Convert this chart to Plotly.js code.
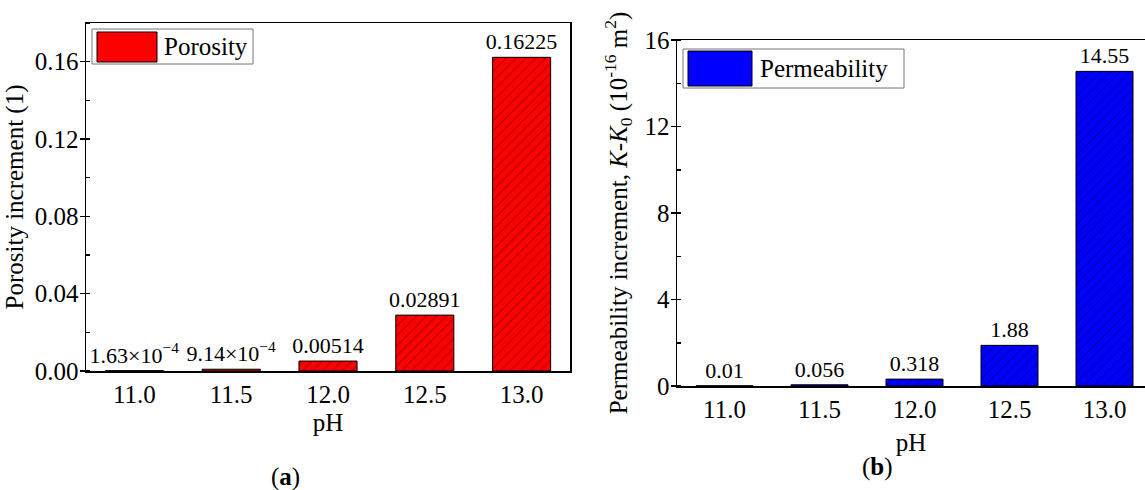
<!DOCTYPE html>
<html>
<head>
<meta charset="utf-8">
<script src="https://cdn.plot.ly/plotly-3.0.1.min.js"></script>
<style>html,body{margin:0;padding:0;background:#fff;}#chart{width:1145px;height:490px;}</style>
</head>
<body>
<div id="chart"></div>
<script>
// ---- data ----
const phLabels = ['11.0', '11.5', '12.0', '12.5', '13.0'];
const porosityIncrement = [1.63e-4, 9.14e-4, 0.00514, 0.02891, 0.16225];
const porosityText = ['1.63×10<sup>−4</sup>', '9.14×10<sup>−4</sup>', '0.00514', '0.02891', '0.16225'];
const permeabilityIncrement = [0.01, 0.056, 0.318, 1.88, 14.55];
const permeabilityText = ['0.01', '0.056', '0.318', '1.88', '14.55'];
const seriesNames = ['Porosity', 'Permeability'];
const panelLabels = ['(<b>a</b>)', '(<b>b</b>)'];

// ---- layout helpers (pixel -> paper) ----
const W = 1145, H = 490;
const px = v => v / W;
const py = v => 1 - v / H;
const FONT = 'Liberation Serif, Times New Roman, serif';
const TICK = 25, TITLE = 25, LABEL = 22;

const traces = [
  {
    type: 'bar', x: phLabels, y: porosityIncrement, xaxis: 'x', yaxis: 'y',
    name: seriesNames[0], width: 0.6,
    text: porosityText, textposition: 'outside', cliponaxis: false, constraintext: 'none',
    textfont: {family: FONT, size: LABEL, color: '#000'},
    marker: {color: '#ff0000', line: {color: '#000', width: 1},
      pattern: {shape: '/', fgcolor: '#a00000', bgcolor: '#ff0000', size: 7, solidity: 0.15}},
    hoverinfo: 'x+y'
  },
  {
    type: 'bar', x: phLabels, y: permeabilityIncrement, xaxis: 'x2', yaxis: 'y2',
    name: seriesNames[1], width: 0.6,
    text: permeabilityText, textposition: 'outside', cliponaxis: false, constraintext: 'none',
    textfont: {family: FONT, size: LABEL, color: '#000'},
    marker: {color: '#0000ff', line: {color: '#000', width: 1},
      pattern: {shape: '/', fgcolor: '#0000a0', bgcolor: '#0000ff', size: 7, solidity: 0.15}},
    hoverinfo: 'x+y'
  }
];

const axisCommon = {
  showgrid: false, zeroline: false, showline: true, linecolor: '#000', linewidth: 1.5,
  tickfont: {family: FONT, size: TICK, color: '#000'}, tickcolor: '#000'
};

const layout = {
  width: W, height: H,
  margin: {l: 0, r: 0, t: 0, b: 0},
  paper_bgcolor: '#fff', plot_bgcolor: '#fff',
  showlegend: false, bargap: 0.4,
  font: {family: FONT, color: '#000'},
  xaxis: Object.assign({}, axisCommon, {
    domain: [px(86), px(570)], anchor: 'y', type: 'category',
    range: [-0.5, 4.5], mirror: true, ticks: '',
    title: {text: 'pH', font: {family: FONT, size: TITLE}, standoff: 7}
  }),
  yaxis: Object.assign({}, axisCommon, {
    domain: [1 - 371 / H, 1 - 23 / H], anchor: 'x',
    range: [0, 0.18], dtick: 0.04, tick0: 0, tickformat: '.2f', mirror: true,
    ticks: 'outside', ticklen: 5, tickwidth: 1.5, ticklabelstandoff: -4,
    minor: {dtick: 0.02, ticks: 'inside', ticklen: 4, tickcolor: '#000', tickwidth: 1.5},
    title: {text: 'Porosity increment (1)', font: {family: FONT, size: TITLE}, standoff: 4}
  }),
  xaxis2: Object.assign({}, axisCommon, {
    domain: [px(677), 1], anchor: 'y2', type: 'category',
    range: [-0.5, -0.5 + (W - 677) / 95], mirror: true, ticks: '',
    title: {text: 'pH', font: {family: FONT, size: TITLE}, standoff: 12}
  }),
  yaxis2: Object.assign({}, axisCommon, {
    domain: [1 - 386 / H, 1 - 40 / H], anchor: 'x2',
    range: [0, 16], dtick: 4, tick0: 0,
    ticks: 'outside', ticklen: 5, tickwidth: 1.5, ticklabelstandoff: -4,
    minor: {dtick: 2, ticks: 'inside', ticklen: 4, tickcolor: '#000', tickwidth: 1.5},
    title: {text: 'Permeability increment, <i>K</i>-<i>K</i><sub>0</sub> (10<sup>-16</sup> m<sup>2</sup>)',
      font: {family: FONT, size: TITLE}, standoff: 10}
  }),
  shapes: [
    // legend (a)
    {type: 'rect', xref: 'paper', yref: 'paper', x0: px(92), x1: px(253), y0: py(64), y1: py(29),
      line: {color: '#777', width: 1}, fillcolor: 'rgba(0,0,0,0)'},
    {type: 'rect', xref: 'paper', yref: 'paper', x0: px(97), x1: px(157), y0: py(62), y1: py(32),
      line: {color: '#000', width: 1}, fillcolor: '#ff0000'},
    // legend (b)
    {type: 'rect', xref: 'paper', yref: 'paper', x0: px(683), x1: px(904), y0: py(88), y1: py(49),
      line: {color: '#777', width: 1}, fillcolor: 'rgba(0,0,0,0)'},
    {type: 'rect', xref: 'paper', yref: 'paper', x0: px(688), x1: px(752), y0: py(86), y1: py(51),
      line: {color: '#000', width: 1}, fillcolor: '#0000ff'}
  ],
  annotations: [
    {xref: 'paper', yref: 'paper', x: px(162), y: py(46), xanchor: 'left', yanchor: 'middle',
      text: seriesNames[0], showarrow: false, font: {family: FONT, size: 25, color: '#000'}},
    {xref: 'paper', yref: 'paper', x: px(758), y: py(68), xanchor: 'left', yanchor: 'middle',
      text: seriesNames[1], showarrow: false, font: {family: FONT, size: 25, color: '#000'}},
    {xref: 'paper', yref: 'paper', x: px(285), y: py(477), xanchor: 'center', yanchor: 'middle',
      text: panelLabels[0], showarrow: false, font: {family: FONT, size: 25, color: '#000'}},
    {xref: 'paper', yref: 'paper', x: px(877), y: py(467), xanchor: 'center', yanchor: 'middle',
      text: panelLabels[1], showarrow: false, font: {family: FONT, size: 25, color: '#000'}}
  ]
};

Plotly.newPlot('chart', traces, layout, {displayModeBar: false, staticPlot: true});
</script>
</body>
</html>
